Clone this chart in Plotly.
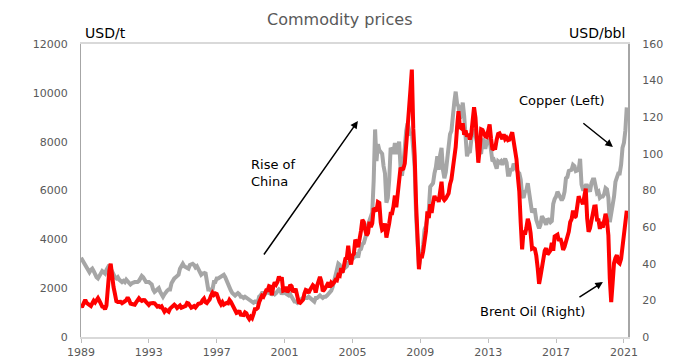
import plotly.graph_objects as go

years = list(range(1989, 2022))

copper = [
    3250, 3150, 3050, 2950, 2800, 2700, 2650, 2750, 2800, 2700, 2550, 2450,  # 1989
    2400, 2500, 2650, 2700, 2650, 2600, 2750, 2900, 2950, 2800, 2650, 2550,  # 1990
    2450, 2400, 2450, 2350, 2300, 2250, 2300, 2250, 2350, 2300, 2250, 2150,  # 1991
    2200, 2250, 2250, 2250, 2250, 2300, 2450, 2500, 2450, 2300, 2250, 2250,  # 1992
    2250, 2200, 2150, 1950, 1850, 1900, 1950, 2000, 1850, 1700, 1650, 1750,  # 1993
    1850, 1900, 1950, 1950, 2200, 2350, 2400, 2450, 2500, 2550, 2800, 2900,  # 1994
    3000, 2900, 2850, 2850, 2800, 2950, 3000, 3000, 2950, 2850, 2900, 2800,  # 1995
    2650, 2550, 2600, 2600, 2650, 2200, 1950, 1950, 1900, 1950, 2250, 2250,  # 1996
    2400, 2400, 2450, 2450, 2500, 2550, 2450, 2300, 2100, 1950, 1900, 1800,  # 1997
    1750, 1700, 1750, 1800, 1750, 1650, 1650, 1600, 1650, 1600, 1550, 1500,  # 1998
    1450, 1400, 1400, 1450, 1450, 1400, 1650, 1700, 1800, 1800, 1750, 1800,  # 1999
    1850, 1800, 1750, 1750, 1800, 1750, 1800, 1850, 1950, 1900, 1750, 1850,  # 2000
    1800, 1750, 1750, 1700, 1750, 1600, 1550, 1450, 1450, 1400, 1450, 1500,  # 2001
    1550, 1600, 1650, 1600, 1600, 1650, 1600, 1500, 1500, 1450, 1600, 1600,  # 2002
    1650, 1700, 1650, 1600, 1650, 1650, 1700, 1750, 1800, 1900, 2050, 2250,  # 2003
    2450, 2750, 3000, 2950, 2750, 2700, 2800, 2850, 2900, 3050, 3100, 3150,  # 2004
    3200, 3250, 3400, 3400, 3250, 3550, 3600, 3800, 3850, 4050, 4250, 4600,  # 2005
    4750, 4950, 5100, 6400, 8500, 7200, 7900, 7650, 7600, 7500, 7000, 6700,  # 2006
    5500, 5700, 6450, 7750, 7650, 7500, 7950, 7500, 7650, 8000, 6950, 6600,  # 2007
    7050, 7900, 8450, 8750, 8400, 8250, 8400, 7650, 6950, 4950, 3700, 2900,  # 2008
    3250, 3350, 3800, 4400, 4550, 5050, 5200, 6150, 6200, 6300, 6700, 6950,  # 2009
    7400, 6850, 7450, 7750, 6850, 6500, 6750, 7300, 7700, 8300, 8450, 9150,  # 2010
    9600, 10050, 9550, 9450, 8950, 9100, 9600, 9050, 8300, 7400, 7600, 7550,  # 2011
    8050, 8450, 8450, 8300, 7950, 7450, 7600, 7500, 8100, 8050, 7700, 8000,  # 2012
    8050, 8050, 7650, 7200, 7250, 7000, 6900, 7200, 7150, 7200, 7050, 7200,  # 2013
    7300, 7150, 6650, 6650, 6900, 6800, 7100, 7000, 6850, 6750, 6700, 6450,  # 2014
    5800, 5700, 5950, 6000, 6300, 5850, 5450, 5100, 5200, 5200, 4800, 4650,  # 2015
    4450, 4600, 4950, 4850, 4700, 4600, 4850, 4750, 4700, 4750, 5450, 5650,  # 2016
    5750, 5950, 5800, 5700, 5600, 5700, 5950, 6500, 6550, 6800, 6850, 6850,  # 2017
    7050, 7000, 6800, 6850, 6850, 7300, 6250, 6050, 6050, 6200, 6200, 6100,  # 2018
    5950, 6300, 6450, 6450, 6050, 5900, 5950, 5700, 5750, 5750, 5850, 6100,  # 2019
    6050, 5700, 4700, 5050, 5250, 5750, 6350, 6500, 6700, 6700, 7050, 7750,  # 2020
    7950, 8450, 9400,                                                        # 2021
]

brent = [
    16.8, 16.9, 18.6, 20.3, 18.6, 17.8, 17.6, 16.9, 18.4, 19.8, 18.9, 19.8,  # 1989
    21.2, 19.8, 18.4, 16.6, 16.4, 15.1, 17.2, 27.2, 36.0, 40.0, 32.4, 27.3,  # 1990
    23.6, 19.5, 19.1, 19.2, 19.2, 18.5, 19.4, 19.5, 20.1, 21.6, 20.3, 18.2,  # 1991
    18.0, 18.0, 17.6, 18.9, 19.8, 21.1, 20.2, 19.7, 20.2, 20.1, 19.2, 18.2,  # 1992
    17.5, 18.4, 18.7, 18.6, 18.4, 17.5, 16.6, 16.9, 16.3, 16.8, 15.3, 13.9,  # 1993
    14.9, 14.0, 13.8, 15.5, 16.2, 16.8, 17.6, 16.9, 15.8, 16.5, 17.2, 16.0,  # 1994
    16.5, 17.1, 17.0, 18.6, 18.3, 17.2, 16.0, 16.4, 16.9, 16.1, 17.2, 18.1,  # 1995
    18.3, 18.6, 20.1, 21.0, 19.0, 18.5, 19.6, 20.5, 22.6, 24.1, 23.0, 23.8,  # 1996
    23.5, 20.8, 19.1, 17.8, 19.0, 17.6, 18.5, 18.6, 18.4, 20.2, 19.2, 17.4,  # 1997
    15.5, 14.3, 13.1, 13.4, 14.4, 12.2, 12.1, 12.0, 13.4, 12.9, 11.0, 9.8,   # 1998
    11.1, 10.3, 12.5, 15.2, 15.3, 15.9, 19.0, 20.3, 22.5, 22.0, 24.6, 25.5,  # 1999
    25.5, 27.8, 27.5, 22.8, 27.6, 29.8, 28.7, 30.2, 33.1, 31.0, 32.6, 25.3,  # 2000
    25.6, 27.5, 24.5, 25.6, 28.5, 27.7, 24.5, 25.7, 25.6, 20.5, 18.9, 18.6,  # 2001
    19.4, 20.3, 23.7, 25.7, 25.4, 24.1, 25.7, 26.6, 28.3, 27.6, 24.3, 28.0,  # 2002
    31.2, 32.8, 30.3, 25.0, 25.8, 27.6, 28.4, 29.8, 27.1, 29.6, 28.8, 29.8,  # 2003
    31.2, 30.9, 33.8, 33.4, 37.6, 35.2, 38.2, 42.7, 43.2, 49.8, 43.1, 39.6,  # 2004
    44.5, 45.5, 53.1, 51.9, 49.0, 55.6, 57.9, 64.0, 62.8, 58.5, 55.5, 56.8,  # 2005
    62.9, 60.0, 62.1, 70.3, 69.8, 68.7, 73.7, 73.2, 62.5, 58.5, 59.1, 62.0,  # 2006
    54.3, 57.8, 62.1, 67.4, 67.5, 71.3, 77.2, 70.8, 77.1, 82.3, 92.5, 91.5,  # 2007
    91.9, 94.8, 103.3, 110.4, 124.6, 135.0, 146.0, 113.9, 99.1, 72.8, 53.2, 37.0,  # 2008
    44.9, 43.1, 46.8, 50.9, 57.9, 68.6, 64.9, 72.5, 67.7, 73.2, 77.0, 74.7,  # 2009
    76.2, 73.8, 78.8, 84.8, 75.9, 74.8, 75.6, 77.1, 78.4, 83.5, 86.1, 92.0,  # 2010
    96.5, 103.7, 114.6, 123.3, 114.5, 113.9, 116.7, 110.4, 112.8, 109.5, 110.8, 107.9,  # 2011
    110.7, 119.3, 125.5, 119.8, 110.3, 95.2, 102.6, 113.4, 113.0, 111.5, 109.5, 109.2,  # 2012
    112.3, 116.1, 108.5, 102.3, 103.0, 103.1, 107.7, 110.9, 111.2, 109.5, 108.1, 110.7,  # 2013
    108.1, 108.9, 107.5, 107.8, 109.5, 111.8, 106.8, 101.6, 97.1, 87.4, 79.4, 62.3,  # 2014
    47.8, 58.1, 55.9, 59.5, 64.6, 61.7, 56.8, 48.2, 48.6, 48.1, 44.4, 37.7,  # 2015
    29.0, 33.2, 39.1, 42.3, 47.1, 48.5, 45.1, 46.1, 47.2, 51.4, 47.1, 54.9,  # 2016
    55.5, 55.9, 52.5, 53.8, 51.4, 47.6, 49.2, 51.9, 55.2, 57.5, 62.7, 64.4,  # 2017
    69.1, 65.3, 66.0, 72.1, 76.9, 74.4, 74.3, 72.5, 78.9, 81.0, 64.8, 57.4,  # 2018
    59.4, 64.0, 66.1, 71.2, 71.3, 64.0, 63.9, 59.0, 62.8, 59.7, 63.2, 67.3,  # 2019
    63.7, 55.5, 32.0, 19.0, 29.4, 40.3, 43.2, 44.7, 40.9, 40.2, 42.7, 49.9,  # 2020
    54.8, 62.3, 69.0,                                                        # 2021
]

dates = [y + m / 12 for y in years for m in range(12)][:len(copper)]

x_ticks = list(range(1989, 2022, 4))
left_ticks = [0, 2000, 4000, 6000, 8000, 10000, 12000]
right_ticks = [0, 20, 40, 60, 80, 100, 120, 140, 160]

FONT = "DejaVu Sans"
GREY_TXT = "#595959"

fig = go.Figure()
fig.add_trace(go.Scatter(x=dates, y=copper, mode="lines", name="Copper (Left)",
                         line=dict(color="#A6A6A6", width=4)))
fig.add_trace(go.Scatter(x=dates, y=brent, mode="lines", name="Brent Oil (Right)",
                         line=dict(color="#FF0000", width=4), yaxis="y2"))

fig.update_layout(
    width=666, height=355,
    margin=dict(l=73, r=46, t=36, b=26),
    paper_bgcolor="white", plot_bgcolor="white",
    showlegend=False,
    font=dict(family=FONT, size=11, color=GREY_TXT),
    xaxis=dict(range=[1989, 2021.24], tickvals=x_ticks, ticktext=[str(t) for t in x_ticks],
               showgrid=False, zeroline=False, showline=True, linecolor="#D9D9D9",
               linewidth=1.5, mirror=True, ticks="outside", ticklen=4, tickcolor="#BFBFBF",
               tickfont=dict(size=11, color=GREY_TXT), automargin=False),
    yaxis=dict(range=[0, 12000], tickvals=left_ticks, ticktext=[str(t) for t in left_ticks],
               showgrid=False, zeroline=False,
               showline=True, linecolor="#A6A6A6", linewidth=1,
               tickfont=dict(size=11, color=GREY_TXT), ticklabelstandoff=10, automargin=False),
    yaxis2=dict(range=[0, 160], tickvals=right_ticks, ticktext=[str(t) for t in right_ticks],
                overlaying="y", side="right",
                showgrid=False, zeroline=False, showline=True, linecolor="#A6A6A6",
                linewidth=2, tickfont=dict(size=11, color=GREY_TXT), ticklabelstandoff=10,
                automargin=False),
)

TXT = dict(size=13, color="#000000", family=FONT)
anns = [
    dict(text="Commodity prices", x=0.4735, y=1.082, xref="paper", yref="paper",
         xanchor="center", yanchor="middle", showarrow=False,
         font=dict(size=16, color=GREY_TXT, family=FONT)),
    dict(text="USD/t", x=0.004, y=1.0375, xref="paper", yref="paper",
         xanchor="left", yanchor="middle", showarrow=False,
         font=dict(size=14, color="#000000", family=FONT)),
    dict(text="USD/bbl", x=0.998, y=1.0375, xref="paper", yref="paper",
         xanchor="right", yanchor="middle", showarrow=False,
         font=dict(size=14, color="#000000", family=FONT)),
    dict(text="Rise of<br>China", x=1998.9, y=6717, xref="x", yref="y",
         xanchor="left", yanchor="middle", align="left", showarrow=False, font=TXT),
    dict(text="Copper (Left)", x=2017.34, y=9666, xref="x", yref="y",
         xanchor="center", yanchor="middle", showarrow=False, font=TXT),
    dict(text="Brent Oil (Right)", x=2015.63, y=1065, xref="x", yref="y",
         xanchor="center", yanchor="middle", showarrow=False, font=TXT),
    dict(text="", x=2005.32, y=8846, ax=1999.72, ay=3317, xref="x", yref="y",
         axref="x", ayref="y", showarrow=True, arrowhead=2, arrowsize=1,
         arrowwidth=1.5, arrowcolor="#000000"),
    dict(text="", x=2020.35, y=7782, ax=2018.52, ay=8805, xref="x", yref="y",
         axref="x", ayref="y", showarrow=True, arrowhead=2, arrowsize=1,
         arrowwidth=1.5, arrowcolor="#000000"),
    dict(text="", x=2019.76, y=2253, ax=2018.29, ay=1597, xref="x", yref="y",
         axref="x", ayref="y", showarrow=True, arrowhead=2, arrowsize=1,
         arrowwidth=1.5, arrowcolor="#000000"),
]
fig.update_layout(annotations=anns)

fig.write_html("out.html")
